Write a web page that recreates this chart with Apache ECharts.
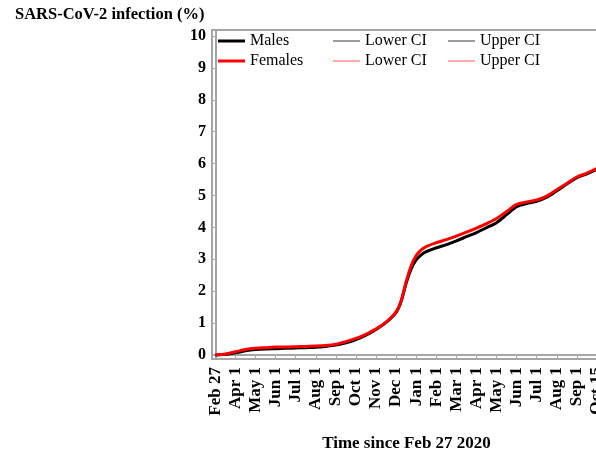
<!DOCTYPE html>
<html>
<head>
<meta charset="utf-8">
<script src="https://cdn.jsdelivr.net/npm/echarts@6/dist/echarts.min.js"></script>
<style>
  html, body { margin: 0; padding: 0; background: #fff; }
  #chart { width: 596px; height: 458px; }
</style>
</head>
<body>
<div id="chart"></div>
<script>
    // tick labels, one per month position on the x axis
    var xLabels = ['Feb 27', 'Apr 1', 'May 1', 'Jun 1', 'Jul 1', 'Aug 1', 'Sep 1', 'Oct 1', 'Nov 1', 'Dec 1',
                   'Jan 1', 'Feb 1', 'Mar 1', 'Apr 1', 'May 1', 'Jun 1', 'Jul 1', 'Aug 1', 'Sep 1', 'Oct 15'];
    var yTicks = [0, 1, 2, 3, 4, 5, 6, 7, 8, 9, 10];

    // position along the axis (0 = Feb 27, 1 = Apr 1, ...)
    var timePos = [0, 0.5, 1, 1.5, 2, 2.5, 3, 3.5, 4, 4.5, 5, 5.5, 6, 6.5, 7, 7.5, 8, 8.5, 9, 9.25, 9.5, 9.75,
                   10, 10.25, 10.5, 11, 11.5, 12, 12.5, 13, 13.5, 14, 14.5, 15, 15.5, 16, 16.5, 17, 17.5, 18, 18.5, 19];

    // infection (%)
    var males   = [0, 0.02, 0.07, 0.13, 0.17, 0.19, 0.20, 0.21, 0.22, 0.23, 0.24, 0.27, 0.31, 0.38, 0.48, 0.62, 0.80, 1.02, 1.34, 1.68, 2.25, 2.70,
                   2.98, 3.14, 3.24, 3.36, 3.46, 3.58, 3.71, 3.84, 3.99, 4.15, 4.40, 4.65, 4.75, 4.82, 4.95, 5.15, 5.36, 5.56, 5.68, 5.83];
    var females = [0, 0.03, 0.10, 0.17, 0.21, 0.23, 0.25, 0.25, 0.26, 0.27, 0.28, 0.30, 0.34, 0.42, 0.52, 0.65, 0.82, 1.03, 1.35, 1.70, 2.30, 2.80,
                   3.12, 3.30, 3.40, 3.52, 3.62, 3.73, 3.85, 3.98, 4.12, 4.28, 4.50, 4.72, 4.80, 4.86, 4.98, 5.18, 5.38, 5.58, 5.70, 5.85];

    var pairs = function (xs, ys) {
        var res = [];
        for (var i = 0; i < xs.length; i++) {
            res.push([xs[i], ys[i]]);
        }
        return res;
    };

    var serif = "'Liberation Serif', 'Times New Roman', serif";
    var axisGray = '#a6a6a6';

    var legendBase = function (left, names, h) {
        return {
            orient: 'vertical',
            left: left,
            top: 33,
            padding: 0,
            itemGap: 4,
            itemWidth: 27,
            itemHeight: h,
            icon: 'rect',
            selectedMode: false,
            data: names,
            formatter: function (n) { return n.replace(/^(Males|Females) /, ''); },
            textStyle: { fontFamily: serif, fontSize: 16, color: '#000', lineHeight: 16, padding: [0, 0, 0, 0] }
        };
    };

    var lineSeries = function (name, color, width, data, z) {
        return {
            name: name,
            type: 'line',
            data: data,
            showSymbol: false,
            smooth: 0.3,
            z: z,
            itemStyle: { color: color },
            lineStyle: { color: color, width: width }
        };
    };

    var option = {
        animation: false,
        backgroundColor: '#fff',
        title: {
            text: 'SARS-CoV-2 infection (%)',
            left: 15,
            top: 6,
            padding: 0,
            textStyle: { fontFamily: serif, fontSize: 16.5, fontWeight: 'bold', color: '#000' }
        },
        legend: [
            legendBase(218, ['Males', 'Females'], 3),
            legendBase(333, ['Males Lower CI', 'Females Lower CI'], 1.3),
            legendBase(448, ['Males Upper CI', 'Females Upper CI'], 1.3)
        ],
        grid: {
            left: 212,
            top: 30,
            bottom: 99,
            right: -5,
            outerBoundsMode: 'none',
            containLabel: false,
            show: true,
            borderColor: axisGray,
            borderWidth: 2
        },
        xAxis: {
            type: 'value',
            min: -0.165,
            max: 19.2,
            name: 'Time since Feb 27 2020',
            nameLocation: 'middle',
            nameGap: 76,
            nameTextStyle: { fontFamily: serif, fontSize: 17, fontWeight: 'bold', color: '#000' },
            axisLine: { lineStyle: { color: axisGray, width: 2 } },
            axisTick: {
                customValues: xLabels.map(function (l, i) { return i; }),
                length: 5,
                lineStyle: { color: axisGray }
            },
            axisLabel: {
                customValues: xLabels.map(function (l, i) { return i; }),
                formatter: function (v) { return xLabels[Math.round(v)]; },
                rotate: 90,
                margin: 8,
                fontFamily: serif,
                fontSize: 17,
                fontWeight: 'bold',
                color: '#000'
            },
            splitLine: { show: false }
        },
        yAxis: {
            type: 'value',
            min: -0.125,
            max: 10.19,
            axisLine: { show: true, lineStyle: { color: axisGray, width: 2 } },
            axisTick: {
                show: true,
                customValues: yTicks,
                length: 3,
                lineStyle: { color: axisGray }
            },
            axisLabel: {
                customValues: yTicks,
                margin: 6,
                fontFamily: serif,
                fontSize: 16,
                fontWeight: 'bold',
                color: '#000'
            },
            splitLine: { show: false }
        },
        series: [
            lineSeries('Males Lower CI', '#666666', 1, [], 2),
            lineSeries('Males Upper CI', '#666666', 1, [], 2),
            lineSeries('Females Lower CI', '#ff7a7a', 1, [], 2),
            lineSeries('Females Upper CI', '#ff7a7a', 1, [], 2),
            lineSeries('Males', '#000000', 3, pairs(timePos, males), 3),
            lineSeries('Females', '#ff0000', 3, pairs(timePos, females), 4)
        ]
    };

    var chart = echarts.init(document.getElementById('chart'));
    chart.setOption(option);
</script>
</body>
</html>
